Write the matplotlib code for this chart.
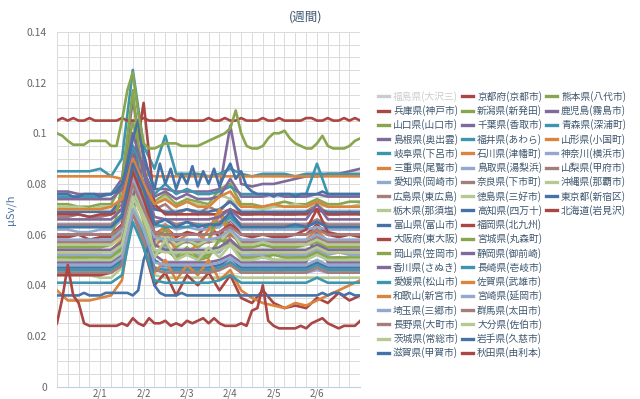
import numpy as np
import matplotlib
matplotlib.use('Agg')
import matplotlib.pyplot as plt
from matplotlib.lines import Line2D
from matplotlib.ticker import MultipleLocator, FuncFormatter

plt.rcParams['font.family'] = ['Noto Sans CJK JP', 'DejaVu Sans']

# ---------------- data (values in 0.001 μSv/h) ----------------
names = [
    '福島県(大沢三)', '兵庫県(神戸市)', '山口県(山口市)', '島根県(奥出雲)', '岐阜県(下呂市)',
    '三重県(尾鷲市)', '愛知県(岡崎市)', '広島県(東広島)', '栃木県(那須塩)', '富山県(富山市)',
    '大阪府(東大阪)', '岡山県(笠岡市)', '香川県(さぬき)', '愛媛県(松山市)', '和歌山(新宮市)',
    '埼玉県(三郷市)', '長野県(大町市)', '茨城県(常総市)', '滋賀県(甲賀市)',
    '京都府(京都市)', '新潟県(新発田)', '千葉県(香取市)', '福井県(あわら)', '石川県(津幡町)',
    '鳥取県(湯梨浜)', '奈良県(下市町)', '徳島県(三好市)', '高知県(四万十)', '福岡県(北九州)',
    '宮城県(丸森町)', '静岡県(御前崎)', '長崎県(壱岐市)', '佐賀県(武雄市)', '宮崎県(延岡市)',
    '群馬県(太田市)', '大分県(佐伯市)', '岩手県(久慈市)', '秋田県(由利本)',
    '熊本県(八代市)', '鹿児島(霧島市)', '青森県(深浦町)', '山形県(小国町)', '神奈川(横浜市)',
    '山梨県(甲府市)', '沖縄県(那覇市)', '東京都(新宿区)', '北海道(岩見沢)',
]
hidden = ['福島県(大沢三)']

day_ticks = [1, 2, 3, 4, 5, 6]
day_labels = ['2/1', '2/2', '2/3', '2/4', '2/5', '2/6']

# 3-hourly series (57 points, 1/31 00:00 .. 2/7 00:00)
kyoto = [105, 106, 105, 106, 105, 105, 106, 105, 105, 105, 105, 105, 106, 105, 105, 105,
         106, 105, 105, 105, 105, 106, 105, 105, 105, 105, 105, 105, 106, 105, 105, 106,
         105, 105, 106, 105, 105, 105, 106, 105, 105, 106, 105, 105, 105, 105, 106, 106,
         105, 105, 106, 105, 105, 106, 105, 106, 105]
kumamoto = [100, 99, 97, 95.5, 95.5, 95.5, 97, 97, 97, 97, 95, 95, 105, 117, 124, 108,
            96, 94, 94, 95, 96, 96, 96, 95, 95, 95, 95, 96, 97, 98, 99, 100,
            102, 109, 100, 95, 94, 94, 95, 98, 100, 100, 101, 98, 96, 95, 94, 94,
            96, 99, 95, 94, 94, 94, 95, 97, 98]
hokkaido = [25, 35, 48, 36, 33, 25, 24, 24, 24, 24, 24, 24, 25, 24, 27, 25,
            24, 27, 25, 25, 26, 24, 25, 24, 26, 25, 26, 27, 25, 27, 25, 24,
            24, 24, 25, 24, 30, 31, 40, 26, 24, 23, 23, 23, 23, 24, 23, 25,
            26, 27, 25, 24, 23, 24, 24, 24, 26]
iwate = [36, 36, 36, 36, 36, 37, 36, 36, 36, 37, 37, 37, 37, 37, 36, 38,
         50, 56, 40, 37, 36, 36, 36, 37, 36, 36, 36, 36, 36, 36, 36, 36,
         36, 36, 36, 36, 36, 36, 36, 36, 36, 36, 36, 36, 36, 36, 36, 36,
         36, 37, 36, 37, 37, 36, 37, 36, 36]
kochi = [76, 76, 76, 75, 75, 76, 76, 76, 75, 76, 76, 77,
         80, 88, 98, 105, 92, 84,
         78, 88, 80, 86, 78, 84, 80, 87, 79, 85, 80, 86, 79, 84, 88, 82, 85, 79, 77,
         76, 76, 76, 75, 76, 76, 76, 75, 76, 76, 76, 76, 77, 76, 76, 76, 76, 76, 76, 76]

# 6-hourly series (29 points)
hyogo = [59, 59, 60, 58, 59, 59, 62, 75, 68, 60, 63, 59, 61, 60, 64, 59, 66, 60, 59, 60, 59, 59, 60, 60, 64, 60, 59, 60, 59]
yamaguchi = [72, 72, 71, 71, 72, 72, 80, 105, 85, 73, 76, 72, 74, 73, 72, 78, 80, 72, 72, 71, 72, 73, 72, 72, 74, 72, 72, 73, 73]
shimane = [77, 77, 76, 76, 76, 76, 82, 113, 90, 78, 78, 77, 77, 77, 77, 78, 103, 80, 79, 80, 80, 81, 82, 83, 83, 84, 84, 85, 86]
gifu = [85, 85, 85, 85, 86, 83, 90, 125, 95, 86, 99, 84, 84, 84, 83, 84, 86, 84, 83, 84, 84, 84, 83, 84, 84, 84, 84, 84, 84]
mie = [83, 83, 83, 83, 83, 83, 82, 84, 84, 83, 83, 83, 83, 83, 83, 83, 83, 83, 83, 83, 83, 83, 83, 83, 83, 83, 83, 83, 83]
aichi = [62, 62, 61, 61, 62, 62, 66, 85, 75, 63, 64, 62, 63, 62, 62, 63, 66, 62, 62, 62, 62, 62, 62, 62, 63, 62, 62, 62, 62]
hiroshima = [67, 67, 68, 67, 67, 68, 72, 95, 80, 70, 72, 68, 70, 68, 71, 69, 74, 68, 68, 69, 68, 68, 68, 69, 72, 68, 68, 69, 68]
tochigi = [71, 71, 71, 70, 71, 71, 74, 90, 78, 72, 75, 71, 73, 72, 71, 76, 74, 71, 71, 70, 71, 71, 72, 71, 72, 71, 71, 71, 72]
toyama = [69, 69, 69, 69, 69, 69, 74, 95, 84, 70, 69, 69, 70, 69, 69, 70, 73, 69, 69, 69, 69, 69, 69, 69, 70, 69, 69, 69, 69]
osaka = [68, 68, 68, 67, 68, 68, 70, 85, 112, 72, 68, 68, 68, 68, 68, 68, 70, 68, 68, 68, 68, 68, 68, 68, 70, 68, 68, 68, 68]
okayama = [50, 50, 51, 50, 50, 51, 55, 80, 65, 52, 56, 50, 53, 50, 51, 58, 58, 51, 50, 52, 50, 50, 51, 51, 53, 50, 51, 50, 50]
kagawa = [49, 49, 49, 49, 49, 49, 52, 75, 90, 52, 49, 49, 49, 49, 49, 50, 52, 49, 49, 49, 49, 49, 49, 49, 62, 49, 49, 49, 49]
ehime = [75, 75, 75, 75, 75, 76, 80, 95, 85, 76, 80, 76, 78, 76, 76, 77, 79, 76, 76, 76, 76, 76, 76, 76, 88, 76, 76, 76, 76]
wakayama = [57, 57, 57, 56, 56, 56, 60, 85, 70, 58, 64, 57, 60, 60, 57, 68, 60, 57, 57, 58, 57, 57, 57, 58, 62, 57, 57, 57, 57]
saitama = [52, 52, 52, 52, 52, 52, 56, 80, 70, 53, 55, 52, 54, 52, 53, 53, 58, 52, 52, 52, 53, 52, 52, 52, 54, 52, 53, 52, 52]
nagano = [64, 64, 64, 64, 64, 64, 68, 88, 76, 65, 66, 64, 65, 64, 64, 65, 68, 64, 64, 64, 64, 64, 64, 64, 66, 64, 64, 64, 64]
ibaraki = [44, 44, 44, 44, 43, 43, 47, 70, 60, 44, 43, 43, 43, 43, 43, 43, 44, 43, 43, 43, 43, 43, 43, 43, 43, 43, 43, 43, 43]
shiga = [47, 47, 47, 47, 47, 47, 50, 70, 80, 50, 47, 47, 47, 47, 47, 48, 50, 47, 47, 47, 47, 47, 47, 47, 49, 47, 47, 47, 47]
niigata = [55, 55, 55, 55, 55, 56, 80, 117, 75, 57, 62, 55, 58, 55, 58, 70, 62, 55, 55, 56, 55, 55, 55, 56, 57, 55, 55, 55, 55]
chiba = [74, 74, 74, 74, 74, 74, 78, 100, 85, 75, 77, 74, 76, 74, 74, 75, 82, 75, 75, 75, 76, 75, 75, 75, 76, 75, 75, 75, 75]
fukui = [63, 63, 63, 63, 63, 63, 68, 90, 78, 64, 63, 63, 63, 64, 63, 64, 67, 63, 63, 63, 63, 63, 63, 63, 65, 63, 63, 63, 63]
ishikawa = [53, 53, 53, 53, 53, 54, 58, 82, 68, 55, 60, 54, 53, 56, 62, 70, 58, 54, 53, 53, 54, 53, 53, 53, 55, 53, 53, 53, 53]
tottori = [45, 45, 45, 45, 45, 45, 48, 70, 62, 46, 47, 45, 46, 45, 45, 46, 50, 45, 45, 45, 46, 45, 45, 45, 46, 45, 45, 45, 45]
nara = [57, 57, 57, 57, 57, 57, 61, 82, 72, 58, 57, 57, 57, 57, 57, 58, 60, 57, 57, 57, 57, 57, 57, 57, 59, 57, 57, 57, 57]
tokushima = [56, 56, 56, 56, 56, 56, 59, 78, 68, 57, 60, 56, 58, 56, 58, 57, 62, 56, 56, 57, 56, 56, 56, 56, 58, 56, 56, 56, 56]
fukuoka = [44, 44, 44, 44, 44, 45, 48, 70, 55, 40, 45, 36, 44, 40, 45, 38, 44, 35, 33, 38, 33, 31, 32, 31, 35, 33, 37, 34, 36]
miyagi = [51, 51, 51, 51, 51, 51, 54, 72, 62, 52, 54, 51, 55, 51, 52, 58, 56, 51, 51, 51, 52, 51, 51, 51, 53, 51, 51, 51, 51]
shizuoka = [54, 54, 54, 54, 54, 54, 57, 75, 88, 56, 54, 54, 54, 54, 54, 55, 58, 54, 54, 54, 54, 54, 54, 54, 56, 54, 54, 54, 54]
nagasaki = [46, 46, 46, 46, 46, 46, 49, 72, 60, 47, 46, 46, 46, 46, 46, 47, 49, 46, 46, 46, 46, 46, 46, 46, 48, 46, 46, 46, 46]
saga = [38, 34, 34, 34, 35, 36, 42, 70, 55, 45, 50, 42, 48, 44, 50, 42, 46, 38, 35, 33, 32, 31, 33, 32, 34, 36, 38, 40, 42]
miyazaki = [58, 58, 58, 58, 58, 58, 62, 82, 72, 59, 58, 58, 58, 58, 58, 59, 62, 58, 58, 58, 58, 58, 58, 58, 60, 58, 58, 58, 58]
gunma = [45, 45, 45, 45, 45, 45, 48, 68, 58, 46, 45, 45, 45, 45, 45, 46, 48, 45, 45, 45, 45, 45, 45, 45, 47, 45, 45, 45, 45]
oita = [50, 50, 50, 50, 50, 50, 53, 72, 62, 51, 58, 50, 52, 50, 55, 51, 56, 50, 50, 51, 50, 50, 50, 50, 52, 50, 50, 50, 50]
akita = [60, 60, 60, 60, 60, 60, 64, 85, 74, 61, 60, 60, 60, 60, 60, 61, 64, 60, 60, 60, 60, 60, 60, 62, 70, 61, 60, 60, 60]
kagoshima = [66, 66, 66, 66, 66, 66, 70, 92, 80, 67, 66, 66, 66, 66, 66, 67, 70, 66, 66, 66, 66, 66, 66, 66, 72, 66, 66, 66, 66]
aomori = [41, 41, 41, 41, 41, 41, 44, 65, 55, 42, 41, 41, 41, 41, 41, 42, 44, 41, 41, 41, 41, 41, 41, 41, 43, 41, 41, 41, 41]
yamagata = [70, 70, 70, 70, 70, 71, 74, 90, 80, 72, 74, 71, 73, 71, 71, 75, 77, 71, 71, 71, 72, 71, 71, 71, 73, 71, 71, 71, 71]
kanagawa = [48, 48, 48, 48, 48, 48, 51, 70, 62, 49, 48, 48, 48, 48, 48, 49, 51, 48, 48, 48, 48, 48, 48, 48, 50, 48, 48, 48, 48]
yamanashi = [60, 60, 60, 60, 60, 60, 63, 80, 70, 61, 60, 60, 60, 60, 60, 61, 63, 60, 60, 60, 60, 60, 60, 60, 62, 60, 60, 60, 60]
okinawa = [53, 53, 53, 53, 53, 53, 56, 75, 66, 54, 53, 53, 53, 53, 53, 54, 56, 53, 53, 53, 53, 53, 53, 53, 55, 53, 53, 53, 53]
tokyo = [63, 63, 63, 63, 63, 63, 67, 88, 78, 64, 66, 63, 65, 63, 64, 64, 69, 63, 63, 63, 63, 63, 64, 63, 65, 63, 63, 63, 63]

series_values = [
    None, hyogo, yamaguchi, shimane, gifu, mie, aichi, hiroshima, tochigi, toyama,
    osaka, okayama, kagawa, ehime, wakayama, saitama, nagano, ibaraki, shiga,
    kyoto, niigata, chiba, fukui, ishikawa, tottori, nara, tokushima, kochi, fukuoka,
    miyagi, shizuoka, nagasaki, saga, miyazaki, gunma, oita, iwate, akita,
    kumamoto, kagoshima, aomori, yamagata, kanagawa, yamanashi, okinawa, tokyo, hokkaido,
]

# ---------------- style ----------------
palette = ['#4572A7', '#AA4643', '#89A54E', '#80699B', '#3D96AE',
           '#DB843D', '#92A8CD', '#A47D7C', '#B5CA92']

fig = plt.figure(figsize=(6.4, 3.99), dpi=100)
ax = fig.add_axes([0.089, 0.031, 0.474, 0.889])

handles = []
for i, (name, vals) in enumerate(zip(names, series_values)):
    color = palette[i % len(palette)]
    if name in hidden or vals is None:
        handles.append(Line2D([], [], color='#CCCCCC', lw=2.4))
        continue
    y = np.asarray(vals, dtype=float) / 1000.0
    x = np.linspace(0, 7, len(y))
    ax.plot(x, y, color=color, lw=1.9, solid_joinstyle='round', zorder=2 + i * 0.01)
    handles.append(Line2D([], [], color=color, lw=2.4))

ax.set_xlim(0, 7)
ax.set_ylim(0, 0.14)
ax.set_xticks(day_ticks)
ax.set_xticklabels(day_labels)
ax.xaxis.set_minor_locator(MultipleLocator(0.25))
ax.yaxis.set_major_locator(MultipleLocator(0.02))
ax.yaxis.set_minor_locator(MultipleLocator(0.005))
ax.yaxis.set_major_formatter(FuncFormatter(
    lambda v, p: '0' if abs(v) < 1e-9 else ('%.2f' % v).rstrip('0')))
ax.grid(True, which='both', color='#DADADA', lw=0.7, zorder=0)
ax.set_axisbelow(True)
for s in ['top', 'right', 'left']:
    ax.spines[s].set_visible(False)
ax.spines['bottom'].set_color('#C0D0E0')
ax.tick_params(axis='both', which='both', length=0, labelsize=7.5, colors='#666666')
ax.tick_params(axis='y', pad=7)
ax.tick_params(axis='x', labelsize=7, pad=1)
ax.set_ylabel('μSv/h', color='#4D759E', fontsize=8, labelpad=8)

fig.text(0.478, 0.958, '(週間)', ha='center', va='center', fontsize=9, color='#3E576F')

# legend: column-first with 19 rows, pad 3rd column with blanks
leg_handles = list(handles)
leg_labels = list(names)
while len(leg_handles) < 57:
    leg_handles.append(Line2D([], [], color='none'))
    leg_labels.append('')
leg = fig.legend(leg_handles, leg_labels, ncol=3, loc='upper left',
                 bbox_to_anchor=(0.590, 0.772), frameon=False, fontsize=7.0,
                 handlelength=1.15, handletextpad=0.45, columnspacing=0.35,
                 labelspacing=0.34, borderpad=0, borderaxespad=0)
for t, name in zip(leg.get_texts(), leg_labels):
    t.set_color('#CCCCCC' if name in hidden else '#3E576F')

fig.savefig('out.png', dpi=100)
